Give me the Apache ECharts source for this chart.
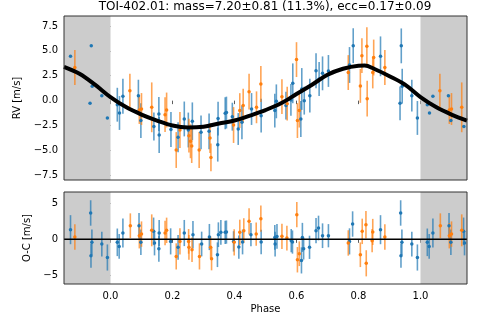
<!DOCTYPE html>
<html>
<head>
<meta charset="utf-8">
<script src="https://cdn.jsdelivr.net/npm/echarts@6/dist/echarts.min.js"></script>
<style>html,body{margin:0;padding:0;background:#fff}#c{width:491px;height:327px}</style>
</head>
<body>
<div id="c"></div>
<script>
// ---------- data ----------
const titleText = 'TOI-402.01: mass=7.20\u00b10.81 (11.3%), ecc=0.17\u00b10.09';
const xTicks = [0.0, 0.2, 0.4, 0.6, 0.8, 1.0];
const yTicksTop = [-7.5, -5.0, -2.5, 0.0, 2.5, 5.0, 7.5];
const yTicksBottom = [-5, 0, 5];

// model curve
const modelPhase = [-0.15,-0.1,-0.05,0.0,0.05,0.1,0.15,0.2,0.25,0.3,0.35,0.4,0.45,0.5,0.55,0.6,0.65,0.7,0.75,0.8,0.82,0.85,0.9,0.95,1.0,1.05,1.1,1.15];
const modelRV    = [3.4,2.7,1.6,0.35,-0.65,-1.4,-2.0,-2.5,-2.7,-2.62,-2.3,-2.0,-1.5,-0.95,-0.27,0.67,1.6,2.6,3.2,3.5,3.52,3.2,2.45,1.6,0.35,-0.65,-1.4,-2.0];

// top panel: blue instrument
const blueTopPhase = [0.022,0.029,0.040,0.090,0.098,0.140,0.156,0.157,0.195,0.218,0.238,0.251,0.264,0.292,0.318,0.346,0.347,0.370,0.374,0.393,0.412,0.424,0.455,0.486,0.530,0.535,0.566,0.582,0.588,0.614,0.617,0.625,0.643,0.663,0.673,0.684,0.703,0.771,0.783,0.871,0.934,0.938,0.941,0.972,0.990];
const blueTopRV    = [-0.41,-1.24,0.44,0.5,-2.0,-2.6,-1.34,-3.45,-2.9,-3.68,-1.84,-2.95,-2.08,-3.18,-3.08,-4.42,-1.8,-1.27,-1.2,-1.61,-2.85,-2.18,-0.84,-1.51,-1.0,-0.07,-0.5,0.07,1.74,-1.84,1.17,0.0,0.5,3.0,2.17,2.74,2.98,3.58,5.52,4.45,-0.27,5.5,1.45,0.5,-1.74];
const blueTopErr   = [1.7,1.7,1.75,1.6,1.75,1.4,1.7,1.8,1.75,1.5,1.75,1.75,1.9,1.7,1.8,1.7,1.7,1.6,1.6,1.4,1.6,1.7,1.6,1.7,1.7,1.7,1.4,1.6,2.0,1.8,2.1,1.4,1.7,1.75,1.7,1.7,1.6,1.8,1.75,2.0,1.7,1.75,1.75,1.6,1.7];
// top panel: orange instrument
const orangeTopPhase = [0.0625,0.093,0.100,0.133,0.176,0.181,0.212,0.224,0.253,0.258,0.262,0.286,0.321,0.324,0.397,0.417,0.428,0.447,0.471,0.485,0.553,0.570,0.600,0.603,0.609,0.767,0.806,0.811,0.827,0.828,0.846,0.849,0.885];
const orangeTopRV    = [1.0,-0.94,-0.84,-0.67,-1.41,-0.94,-4.96,-2.95,-3.52,-4.08,-4.56,-4.96,-3.75,-5.7,-2.45,-1.0,-0.5,0.9,-0.67,1.67,0.4,-0.3,4.12,-2.0,-1.0,2.82,1.48,4.52,5.47,0.2,2.83,4.33,3.33];
const orangeTopErr   = [1.7,1.4,1.6,2.5,1.75,1.75,1.8,1.8,1.7,1.7,1.7,1.8,1.5,1.4,1.8,1.75,1.7,1.8,1.6,1.8,1.75,1.7,1.75,1.75,1.7,1.75,1.7,1.75,1.9,1.8,1.6,1.8,1.75];

// bottom panel (O-C): blue
const blueOCPhase = [0.022,0.028,0.040,0.092,0.098,0.139,0.142,0.156,0.157,0.194,0.218,0.238,0.266,0.294,0.319,0.345,0.348,0.356,0.370,0.374,0.397,0.414,0.426,0.453,0.486,0.530,0.531,0.537,0.583,0.587,0.616,0.619,0.623,0.642,0.663,0.671,0.684,0.703,0.771,0.781,0.871,0.936,0.937,0.940,0.972,0.990];
const blueOC      = [-0.41,-0.97,0.87,1.88,-0.41,1.1,-0.51,-1.29,0.87,-0.28,-1.1,0.87,0.64,-0.64,0.32,-2.12,0.64,0.96,0.96,1.0,-0.28,-1.06,-0.37,0.64,-0.37,0.27,-0.65,0.4,-0.18,-0.37,-2.9,0.27,-1.29,-1.1,1.2,1.56,0.5,0.5,-0.28,2.11,1.33,3.63,-2.25,-0.41,-0.65,-2.5];
const blueOCErr   = [1.9,1.7,2.0,1.75,1.75,1.9,1.7,1.8,1.8,1.8,1.7,1.8,1.9,1.7,1.8,1.7,1.7,1.7,1.6,1.6,1.4,1.6,1.7,1.6,1.7,1.7,1.7,1.7,1.6,1.6,1.8,2.0,1.5,1.6,1.75,1.7,1.7,1.6,1.8,1.75,2.0,1.75,1.65,1.75,1.7,1.8];
// bottom panel (O-C): orange
const orangeOCPhase = [0.064,0.093,0.100,0.133,0.176,0.181,0.212,0.224,0.252,0.253,0.263,0.287,0.323,0.326,0.399,0.417,0.430,0.447,0.470,0.485,0.553,0.569,0.601,0.603,0.609,0.767,0.806,0.812,0.824,0.825,0.844,0.846,0.885];
const orangeOC      = [1.88,0.5,0.72,1.24,0.87,1.24,-2.35,-0.28,-0.28,-1.1,-1.43,-2.35,-1.1,-2.67,-0.41,0.96,1.2,2.48,0.73,2.85,0.41,0.18,3.4,-2.81,-1.98,-0.5,-2.12,1.1,2.0,-3.3,-0.18,1.02,0.32];
const orangeOCErr   = [1.7,1.75,1.75,2.2,1.7,1.75,1.8,1.8,1.7,1.7,1.7,1.8,1.5,1.6,1.8,1.75,1.7,1.8,1.6,1.8,1.75,1.7,1.75,1.75,1.7,1.75,1.7,1.75,1.9,1.8,1.6,1.8,1.75];

// ---------- helpers ----------
const BLUE = '#1f77b4', ORANGE = '#ff7f0e';
const XMIN = -0.15, XMAX = 1.15;
function rows(ph, v, e) { return ph.map((p, i) => [p, v[i], e[i]]); }
// phase-folded copies shown in the grey areas
function copies(ph, v, e) {
  const out = [];
  ph.forEach((p, i) => {
    if (p > 1 + XMIN) out.push([p - 1, v[i], e[i]]);
    if (p < XMAX - 1) out.push([p + 1, v[i], e[i]]);
  });
  return out;
}
const fmt = v => (v < 0 ? '\u2212' : '') + Math.abs(v).toFixed(1);
const fmtInt = v => (v < 0 ? '\u2212' : '') + Math.abs(v).toFixed(0);

function errSeries(data, color, xi, yi) {
  return {
    type: 'custom', xAxisIndex: xi, yAxisIndex: yi, z: 3, clip: true, silent: true,
    data: data,
    encode: { x: 0, y: 1 },
    renderItem: function (params, api) {
      const x = api.value(0), y = api.value(1), e = api.value(2);
      const a = api.coord([x, y - e]), b = api.coord([x, y + e]);
      return { type: 'line', shape: { x1: a[0], y1: a[1], x2: b[0], y2: b[1] },
               style: { stroke: color, lineWidth: 1.6, opacity: 0.7 } };
    }
  };
}
function ptSeries(data, color, xi, yi) {
  return { type: 'scatter', xAxisIndex: xi, yAxisIndex: yi, z: 4, silent: true,
           symbol: 'circle', symbolSize: 3.5, itemStyle: { color: color, opacity: 1 },
           data: data.map(d => [d[0], d[1]]) };
}
function greySeries(xi, yi) {
  return { type: 'scatter', xAxisIndex: xi, yAxisIndex: yi, z: 1, silent: true, data: [],
           markArea: { silent: true, itemStyle: { color: '#cccccc', opacity: 1 },
             data: [[{ xAxis: XMIN }, { xAxis: 0 }], [{ xAxis: 1 }, { xAxis: XMAX }]] } };
}

const blueTop = rows(blueTopPhase, blueTopRV, blueTopErr);
const blueTopCopy = copies(blueTopPhase, blueTopRV, blueTopErr);
const orangeTop = rows(orangeTopPhase, orangeTopRV, orangeTopErr);
const orangeTopAll = orangeTop.concat(copies(orangeTopPhase, orangeTopRV, orangeTopErr));
const blueOCAll = rows(blueOCPhase, blueOC, blueOCErr).concat(copies(blueOCPhase, blueOC, blueOCErr));
const orangeOCAll = rows(orangeOCPhase, orangeOC, orangeOCErr).concat(copies(orangeOCPhase, orangeOC, orangeOCErr));

const FONT = 'DejaVu Sans';
const AX = '#333';
function xAxis(gi, labels) {
  return {
    type: 'value', gridIndex: gi, min: XMIN, max: XMAX,
    axisLine: { show: false },
    splitLine: { show: false },
    axisTick: { show: true, inside: false, length: 3.5, lineStyle: { color: AX, width: 0.8 }, customValues: xTicks },
    axisLabel: { show: labels, customValues: xTicks, margin: 7, color: '#000', fontFamily: FONT, fontSize: 10,
                 formatter: v => fmt(v) },
    name: labels ? 'Phase' : '', nameLocation: 'middle', nameGap: 20,
    nameTextStyle: { color: '#000', fontFamily: FONT, fontSize: 10 }
  };
}
function yAxis(gi, min, max, ticks, name, gap, f) {
  return {
    type: 'value', gridIndex: gi, min: min, max: max,
    axisLine: { show: false }, splitLine: { show: false },
    axisTick: { show: true, length: 3.5, lineStyle: { color: AX, width: 0.8 }, customValues: ticks },
    axisLabel: { customValues: ticks, margin: 6, color: '#000', fontFamily: FONT, fontSize: 10, formatter: f },
    name: name, nameLocation: 'middle', nameGap: gap, nameRotate: 90,
    nameTextStyle: { color: '#000', fontFamily: FONT, fontSize: 10 }
  };
}

const chart = echarts.init(document.getElementById('c'), null, { renderer: 'canvas' });
chart.setOption({
  animation: false,
  backgroundColor: '#fff',
  title: { text: titleText, left: 265, top: 1, textAlign: 'center', padding: 0,
           textStyle: { fontFamily: FONT, fontSize: 12, fontWeight: 'normal', color: '#000' } },
  grid: [
    { left: 64, width: 403, top: 16, height: 164, show: true, borderColor: AX, borderWidth: 1, backgroundColor: 'transparent', z: 10 },
    { left: 64, width: 403, top: 192, height: 92, show: true, borderColor: AX, borderWidth: 1, backgroundColor: 'transparent', z: 10 }
  ],
  xAxis: [xAxis(0, false), xAxis(1, true)],
  yAxis: [
    yAxis(0, -7.97, 8.5, yTicksTop, 'RV [m/s]', 35, fmt),
    yAxis(1, -6.15, 6.52, yTicksBottom, 'O-C [m/s]', 24, fmtInt)
  ],
  series: [
    greySeries(0, 0),
    greySeries(1, 1),
    errSeries(blueTop, BLUE, 0, 0),
    errSeries(orangeTopAll, ORANGE, 0, 0),
    ptSeries(blueTop.concat(blueTopCopy), BLUE, 0, 0),
    ptSeries(orangeTopAll, ORANGE, 0, 0),
    { type: 'line', xAxisIndex: 0, yAxisIndex: 0, z: 6, silent: true, smooth: 0.35, showSymbol: false,
      lineStyle: { color: '#000', width: 4 }, data: modelPhase.map((p, i) => [p, modelRV[i]]) },
    errSeries(blueOCAll, BLUE, 1, 1),
    errSeries(orangeOCAll, ORANGE, 1, 1),
    ptSeries(blueOCAll, BLUE, 1, 1),
    ptSeries(orangeOCAll, ORANGE, 1, 1),
    { type: 'line', xAxisIndex: 1, yAxisIndex: 1, z: 6, silent: true, showSymbol: false,
      lineStyle: { color: '#000', width: 1.5 }, data: [[XMIN, 0], [XMAX, 0]] }
  ]
});
</script>
</body>
</html>
